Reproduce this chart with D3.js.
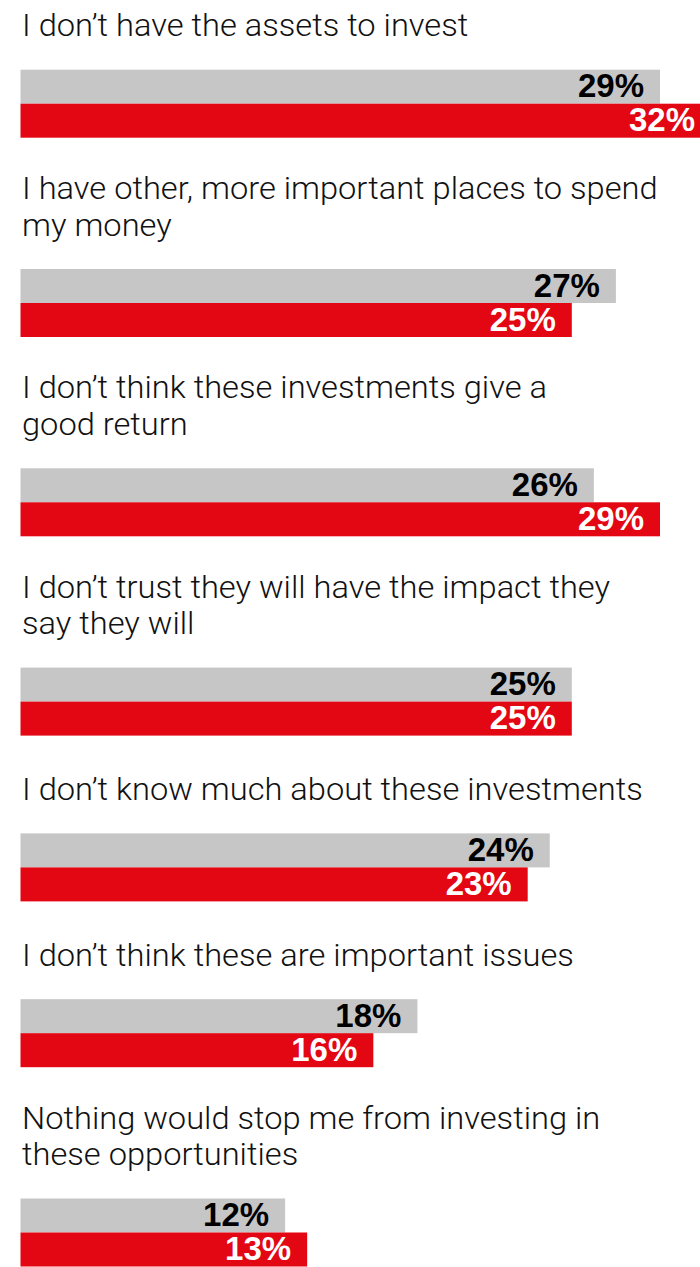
<!DOCTYPE html>
<html>
<head>
<meta charset="utf-8">
<script src="https://cdn.jsdelivr.net/npm/d3@7"></script>
<style>
  html, body { margin: 0; padding: 0; background: #ffffff; }
  svg { display: block; }
</style>
</head>
<body>
<svg id="chart" width="700" height="1267"></svg>
<script>
// Reasons for not investing, each answer with two survey waves
const categories = [
  "I don’t have the assets to invest",
  "I have other, more important places to spend\nmy money",
  "I don’t think these investments give a\ngood return",
  "I don’t trust they will have the impact they\nsay they will",
  "I don’t know much about these investments",
  "I don’t think these are important issues",
  "Nothing would stop me from investing in\nthese opportunities"
];
const greyValues = [29, 27, 26, 25, 24, 18, 12];
const redValues  = [32, 25, 29, 25, 23, 16, 13];
const seriesKeys = ["grey", "red"];

// Presentation
const W = 700, H = 1267;
const left = 20.5;
const barH = 34;
const lineH = 36.5;       // distance between label lines
const lineStep = 33.5;    // vertical room each label line takes before the bars
const labelToBar = 33.5;  // last label baseline to top of bars
const groupGap = 64.3;    // bottom of bars to next label block
const firstTop = 36.2;
const textSqueeze = 1.02;

const colors = { grey: "#c6c6c6", red: "#e30613" };
const valueColors = { grey: "#000000", red: "#ffffff" };

const svg = d3.select("#chart");

const x = d3.scaleLinear().domain([0, 29]).range([left, 660]);
const inner = d3.scaleBand().domain(seriesKeys).range([0, 2 * barH]).padding(0);

const rows = categories.map((c, i) => ({
  lines: c.split("\n"),
  values: { grey: greyValues[i], red: redValues[i] }
}));

// stack the groups vertically: label lines, then the pair of bars
let cursor = firstTop;
rows.forEach(r => {
  const n = r.lines.length;
  r.barTop = cursor + n * lineStep;
  r.baselines = r.lines.map((_, j) => r.barTop - labelToBar - (n - 1 - j) * lineH);
  cursor = r.barTop + 2 * barH + groupGap;
});

const g = svg.selectAll("g.group").data(rows).join("g").attr("class", "group");

g.each(function (r) {
  const grp = d3.select(this);
  r.lines.forEach((line, j) => {
    grp.append("text")
      .attr("transform", `translate(22,${r.baselines[j]}) scale(${textSqueeze},1)`)
      .attr("font-family", "Roboto, 'Noto Sans', sans-serif")
      .attr("font-weight", 300)
      .attr("font-size", 32)
      .attr("fill", "#111111")
      .text(line);
  });

  const bars = grp.selectAll("g.bar")
    .data(seriesKeys.map(k => ({ key: k, value: r.values[k] })))
    .join("g").attr("class", "bar");

  bars.append("rect")
    .attr("x", x(0))
    .attr("y", d => r.barTop + inner(d.key))
    .attr("width", d => x(d.value) - x(0))
    .attr("height", inner.bandwidth())
    .attr("fill", d => colors[d.key]);

  bars.append("text")
    .attr("x", d => Math.min(x(d.value) - 16, W - 5))
    .attr("y", d => r.barTop + inner(d.key) + inner.bandwidth() / 2 + 10.5)
    .attr("text-anchor", "end")
    .attr("font-family", "'Liberation Sans', Arial, sans-serif")
    .attr("font-weight", 700)
    .attr("font-size", 33)
    .attr("fill", d => valueColors[d.key])
    .text(d => d.value + "%");
});
</script>
</body>
</html>
